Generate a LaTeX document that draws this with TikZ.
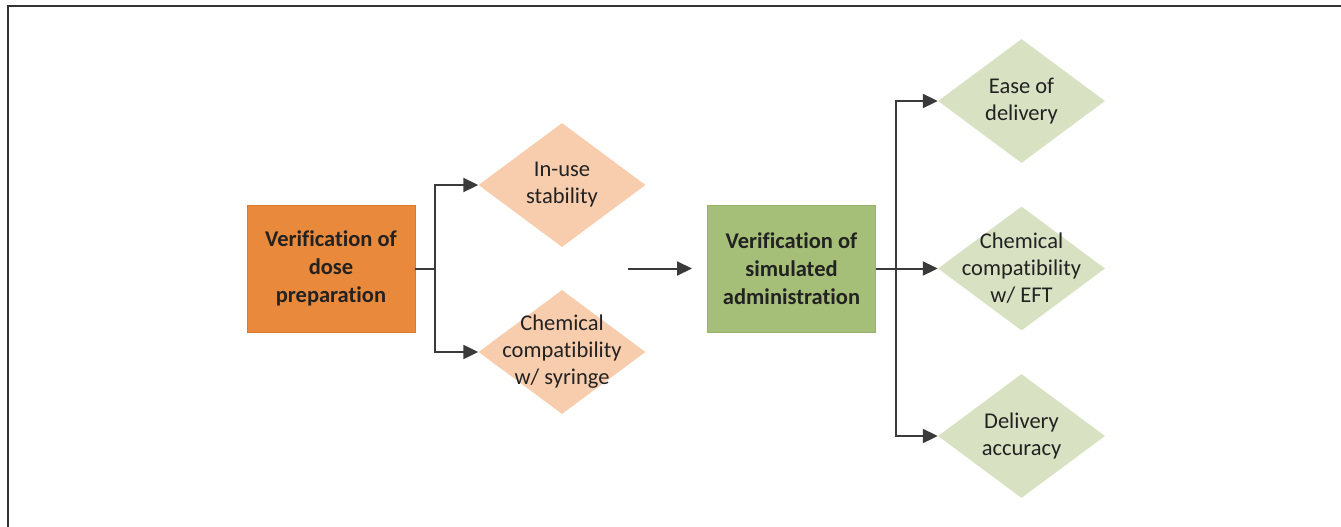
\documentclass[tikz,border=0pt]{standalone}
\usepackage{fontspec}
\setmainfont[Ligatures=CommonOff]{Carlito}
\usetikzlibrary{shapes.geometric,arrows.meta}
\definecolor{orangebox}{HTML}{E8893B}
\definecolor{orangeedge}{HTML}{D97A2E}
\definecolor{peach}{HTML}{F8CDAE}
\definecolor{greenbox}{HTML}{A6BF78}
\definecolor{greenedge}{HTML}{98B26B}
\definecolor{lightgreen}{HTML}{D8E2C3}
\definecolor{arrowgray}{HTML}{3A3A3A}
\definecolor{textdark}{HTML}{222222}
\tikzset{
  x=1pt, y=-1pt,
  mainbox/.style={rectangle, minimum width=168pt, minimum height=127pt, inner sep=0pt, line width=0.8pt,
    font=\fontsize{22.5}{28}\selectfont\bfseries, text=textdark, align=center},
  dshape/.style={diamond, minimum width=167pt, minimum height=124pt, inner sep=0pt},
  dtext/.style={font=\fontsize{22.5}{27}\selectfont, text=textdark, align=center, inner sep=0pt},
  conn/.style={draw=arrowgray, line width=2pt},
  arr/.style={conn, -{Triangle[length=15pt,width=14pt]}},
}
\begin{document}
\begin{tikzpicture}
\useasboundingbox (0,0) rectangle (1341,527);
\draw[color=black!80, line width=1.5pt] (8,527) -- (8,6) -- (1341,6);

% left group
\node[mainbox, fill=orangebox, draw=orangeedge] (prep) at (331,268.5) {Verification of\\dose\\preparation};
\node[dshape, fill=peach] (d1) at (562,185) {};
\node[dtext] (d1t) at (d1) {In-use\\stability};
\node[dshape, fill=peach] (d2) at (562,352) {};
\node[dtext] (d2t) at (d2) {Chemical\\compatibility\\w/ syringe};
\coordinate (bl) at (435,268.5);
\draw[conn] (prep.east) -- (bl);
\draw[arr] (bl) |- (d1.west);
\draw[arr] (bl) |- (d2.west);

% middle arrow
\coordinate (ms) at (628,268.5);
\node[mainbox, fill=greenbox, draw=greenedge] (sim) at (791.5,268.5) {Verification of\\simulated\\administration};
\draw[arr] (ms) -- (692,268.5) coordinate (me);

% right group
\node[dshape, fill=lightgreen] (e1) at (1021.5,101) {};
\node[dtext] (e1t) at (e1) {Ease of\\delivery};
\node[dshape, fill=lightgreen] (e2) at (1021.5,268.5) {};
\node[dtext] (e2t) at (e2) {Chemical\\compatibility\\w/ EFT};
\node[dshape, fill=lightgreen] (e3) at (1021.5,436) {};
\node[dtext] (e3t) at (e3) {Delivery\\accuracy};
\coordinate (br) at (896,268.5);
\draw[arr] (sim.east) -- (e2.west);
\draw[arr] (br) |- (e1.west);
\draw[arr] (br) |- (e3.west);
\end{tikzpicture}
\end{document}
